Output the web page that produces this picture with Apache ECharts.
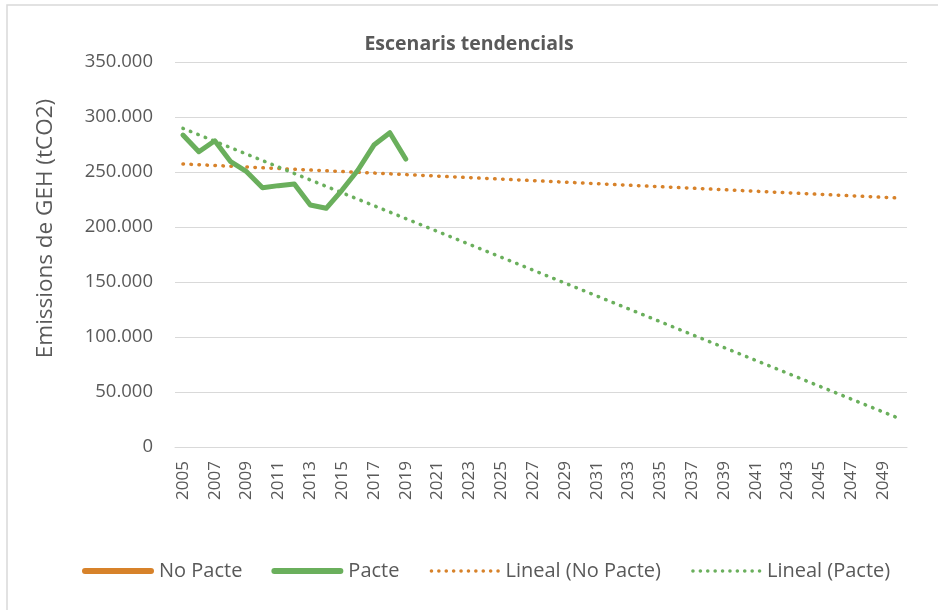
<!DOCTYPE html>
<html>
<head>
<meta charset="utf-8">
<script src="https://cdn.jsdelivr.net/npm/echarts@6/dist/echarts.min.js"></script>
<style>
  html, body { margin: 0; padding: 0; background: #ffffff; }
  #chart { width: 938px; height: 610px; }
</style>
</head>
<body>
<div id="chart"></div>
<script>
// Years on the category axis (2005–2050)
var years = [];
for (var y = 2005; y <= 2050; y++) years.push(String(y));

// Observed emissions with the pact (tCO2), 2005–2019
var pacteYears = ['2005','2006','2007','2008','2009','2010','2011','2012','2013','2014','2015','2016','2017','2018','2019'];
var pacteValues = [283600, 268400, 278400, 259400, 250300, 235700, 237600, 239100, 220000, 217000, 233600, 251800, 274500, 285700, 261800];

// Observed emissions without the pact (covered by the pact series)
var noPacteValues = [];

// Linear trend endpoints (first and last year)
var trendYears = ['2005', '2050'];
var trendNoPacte = [257300, 226300];
var trendPacte = [289700, 26000];

var yTicks = { min: 0, max: 350000, step: 50000 };

var GREEN = '#6aaf5c';
var ORANGE = '#d7822a';
var TEXT = '#595959';
var GRID = '#d9d9d9';
var FONT = '"Open Sans", "Noto Sans", sans-serif';

function pairs(xs, vs) {
  return xs.map(function (x, i) { return [x, vs[i]]; });
}
function fmt(v) {
  return String(v).replace(/\B(?=(\d{3})+(?!\d))/g, '.');
}

// Legend glyphs: a rounded bar for the solid series, a row of dots for the trends
var ICON_W = 72, ICON_H = 6;
var solidIcon = 'path://M3,0 H69 A3,3 0 0 1 69,6 H3 A3,3 0 0 1 3,0 Z';
function dotsIcon() {
  var r = 1.8, d = 'M0,0 Z M72,6 Z';
  for (var cx = 3; cx <= 70; cx += 7.4) {
    d += ' M' + (cx - r) + ',3 a' + r + ',' + r + ' 0 1 0 ' + (2 * r) + ',0 a' + r + ',' + r + ' 0 1 0 ' + (-2 * r) + ',0 Z';
  }
  return 'path://' + d;
}
var dottedIcon = dotsIcon();

var chart = echarts.init(document.getElementById('chart'), null, { renderer: 'canvas' });

var dotted = [0.5, 7.5];

chart.setOption({
  backgroundColor: '#ffffff',
  animation: false,
  textStyle: { fontFamily: FONT },
  title: {
    text: 'Escenaris tendencials',
    left: 'center',
    top: 29,
    textStyle: { color: TEXT, fontSize: 19.5, fontWeight: 'bold', fontFamily: FONT }
  },
  graphic: [{
    type: 'rect',
    shape: { x: 7, y: 5, width: 1000, height: 800 },
    style: { fill: 'none', stroke: GRID, lineWidth: 1.5 },
    silent: true
  }],
  grid: { left: 175, right: 31, top: 62, bottom: 163, containLabel: false },
  legend: {
    bottom: 24,
    left: 77,
    itemWidth: ICON_W,
    itemHeight: ICON_H,
    itemGap: 29,
    itemStyle: { borderWidth: 0 },
    textStyle: { color: TEXT, fontSize: 20, fontFamily: FONT },
    data: [
      { name: 'No Pacte', icon: solidIcon },
      { name: 'Pacte', icon: solidIcon },
      { name: 'Lineal (No Pacte)', icon: dottedIcon },
      { name: 'Lineal (Pacte)', icon: dottedIcon }
    ]
  },
  xAxis: {
    type: 'category',
    data: years,
    boundaryGap: true,
    axisLine: { show: true, lineStyle: { color: GRID, width: 1 } },
    axisTick: { show: false },
    axisLabel: {
      interval: 1,
      rotate: 90,
      color: TEXT,
      fontSize: 17,
      fontFamily: FONT,
      margin: 14
    }
  },
  yAxis: {
    type: 'value',
    min: yTicks.min,
    max: yTicks.max,
    interval: yTicks.step,
    name: 'Emissions de GEH (tCO2)',
    nameLocation: 'middle',
    nameGap: 118,
    nameTextStyle: { color: TEXT, fontSize: 22.5, fontFamily: FONT, padding: [0, 0, 0, 52] },
    axisLine: { show: false },
    axisTick: { show: false },
    splitLine: { lineStyle: { color: GRID, width: 1 } },
    axisLabel: {
      color: TEXT,
      fontSize: 18.5,
      fontFamily: FONT,
      margin: 22,
      formatter: fmt
    }
  },
  series: [
    {
      name: 'No Pacte',
      type: 'line',
      data: noPacteValues,
      symbol: 'none',
      color: ORANGE,
      lineStyle: { color: ORANGE, width: 5, cap: 'round' },
      z: 2
    },
    {
      name: 'Pacte',
      type: 'line',
      data: pairs(pacteYears, pacteValues),
      symbol: 'none',
      color: GREEN,
      lineStyle: { color: GREEN, width: 5, cap: 'round', join: 'round' },
      z: 5
    },
    {
      name: 'Lineal (No Pacte)',
      type: 'line',
      data: pairs(trendYears, trendNoPacte),
      symbol: 'none',
      color: ORANGE,
      lineStyle: { color: ORANGE, width: 3.5, type: dotted, cap: 'round' },
      z: 3
    },
    {
      name: 'Lineal (Pacte)',
      type: 'line',
      data: pairs(trendYears, trendPacte),
      symbol: 'none',
      color: GREEN,
      lineStyle: { color: GREEN, width: 3.5, type: dotted, cap: 'round' },
      z: 4
    }
  ]
});
</script>
</body>
</html>
